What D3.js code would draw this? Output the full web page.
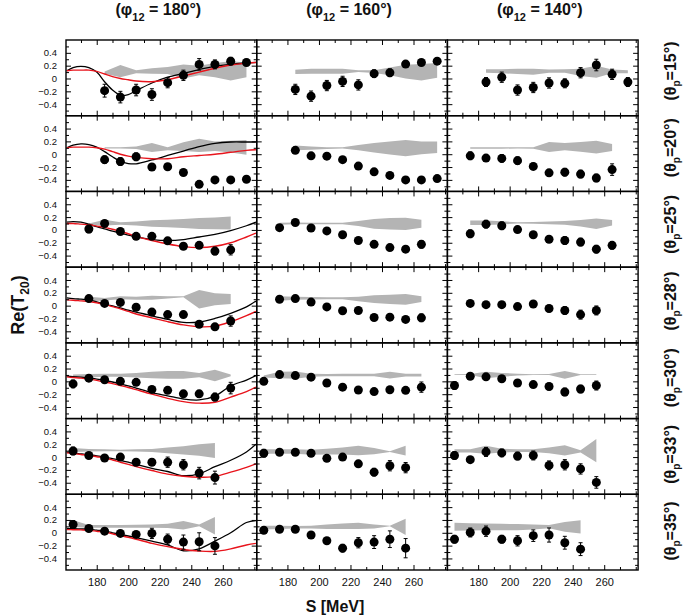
<!DOCTYPE html>
<html>
<head>
<meta charset="utf-8">
<script src="https://d3js.org/d3.v7.min.js"></script>
<style>
  body { margin: 0; background: #fff; }
  text { font-family: "Liberation Sans", Arial, sans-serif; fill: #111; }
</style>
</head>
<body>
<script>

// titles of the columns (phi_12) and rows (theta_p)
var colTitles = ["180°", "160°", "140°"];
var rowTitles = ["15°", "20°", "25°", "28°", "30°", "33°", "35°"];

// tick values
var xMajor = [180, 200, 220, 240, 260];
var xMinor = [170, 190, 210, 230, 250, 270, 280];
var yMajor = [-0.4, -0.2, 0, 0.2, 0.4];
var yMinor = [-0.5, -0.3, -0.1, 0.1, 0.3, 0.5];

// measured points, one list per theta_p row: [S (MeV), Re(T20), error]
var data180 = [
  [[185,-0.19,0.1],[195,-0.29,0.09],[205,-0.18,0.09],[215,-0.25,0.09],[225,-0.065,0.08],[235,0.05,0.08],[245,0.22,0.09],[255,0.22,0.07],[265,0.27,0.06],[275,0.25,0.05]],
  [[185,-0.085,0.06],[195,-0.115,0.06],[205,-0.04,0.06],[215,-0.2,0.03],[225,-0.195,0.03],[235,-0.285,0.03],[245,-0.47,0.03],[255,-0.4,0.03],[265,-0.4,0.03],[275,-0.39,0.045]],
  [[175,0.015,0.06],[185,0.1,0.03],[195,-0.025,0.03],[205,-0.1,0.03],[215,-0.1,0.03],[225,-0.17,0.03],[235,-0.255,0.045],[245,-0.24,0.045],[255,-0.33,0.06],[265,-0.31,0.08]],
  [[175,0.11,0.03],[185,0.035,0.03],[195,0.05,0.03],[205,-0.025,0.03],[215,-0.1,0.03],[225,-0.14,0.03],[235,-0.14,0.03],[245,-0.29,0.045],[255,-0.33,0.045],[265,-0.24,0.08]],
  [[165,-0.04,0.06],[175,0.05,0.03],[185,0.025,0.03],[195,0.0,0.03],[205,-0.015,0.03],[215,-0.125,0.03],[225,-0.14,0.03],[235,-0.195,0.03],[245,-0.195,0.05],[255,-0.245,0.06],[265,-0.105,0.09]],
  [[165,0.095,0.06],[175,0.025,0.03],[185,-0.015,0.03],[195,0.0,0.03],[205,-0.08,0.03],[215,-0.08,0.05],[225,-0.08,0.08],[235,-0.12,0.08],[245,-0.25,0.09],[255,-0.32,0.1]],
  [[165,0.13,0.06],[175,0.067,0.03],[185,0.025,0.03],[195,-0.01,0.03],[205,-0.025,0.03],[215,-0.01,0.08],[225,-0.1,0.08],[235,-0.145,0.11],[245,-0.14,0.14],[255,-0.205,0.13]]
];
var data160 = [
  [[185,-0.17,0.08],[195,-0.275,0.08],[205,-0.11,0.08],[215,-0.045,0.08],[225,-0.1,0.08],[235,0.075,0.06],[245,0.09,0.06],[255,0.225,0.03],[265,0.25,0.03],[275,0.27,0.03]],
  [[185,0.06,0.045],[195,-0.025,0.03],[205,-0.03,0.03],[215,-0.085,0.03],[225,-0.185,0.03],[235,-0.275,0.03],[245,-0.33,0.03],[255,-0.4,0.03],[265,-0.4,0.03],[275,-0.38,0.045]],
  [[175,0.035,0.03],[185,0.115,0.03],[195,0.03,0.03],[205,-0.015,0.03],[215,-0.075,0.03],[225,-0.165,0.03],[235,-0.225,0.03],[245,-0.275,0.03],[255,-0.3,0.03],[265,-0.225,0.06]],
  [[175,0.1,0.03],[185,0.11,0.03],[195,0.055,0.03],[205,-0.02,0.03],[215,-0.08,0.03],[225,-0.075,0.03],[235,-0.185,0.03],[245,-0.18,0.03],[255,-0.215,0.03],[265,-0.19,0.06]],
  [[165,0.0,0.045],[175,0.105,0.03],[185,0.09,0.03],[195,0.065,0.03],[205,-0.025,0.03],[215,-0.09,0.03],[225,-0.135,0.03],[235,-0.16,0.03],[245,-0.13,0.03],[255,-0.14,0.045],[265,-0.09,0.08]],
  [[165,0.06,0.06],[175,0.075,0.03],[185,0.075,0.03],[195,0.06,0.03],[205,-0.02,0.03],[215,0.0,0.03],[225,-0.105,0.03],[235,-0.235,0.06],[245,-0.135,0.08],[255,-0.165,0.08]],
  [[165,0.04,0.03],[175,0.055,0.03],[185,0.055,0.03],[195,-0.035,0.03],[205,-0.125,0.03],[215,-0.24,0.06],[225,-0.155,0.08],[235,-0.145,0.1],[245,-0.1,0.13],[255,-0.24,0.15]]
];
var data140 = [
  [[185,-0.055,0.07],[195,0.02,0.08],[205,-0.18,0.08],[215,-0.14,0.08],[225,-0.07,0.08],[235,-0.075,0.07],[245,0.09,0.08],[255,0.21,0.09],[265,0.065,0.08],[275,-0.055,0.07]],
  [[175,-0.025,0.06],[185,-0.06,0.05],[195,-0.065,0.06],[205,-0.1,0.06],[215,-0.19,0.05],[225,-0.29,0.05],[235,-0.28,0.06],[245,-0.31,0.06],[255,-0.37,0.06],[265,-0.24,0.09]],
  [[175,-0.06,0.06],[185,0.09,0.06],[195,0.065,0.06],[205,0.005,0.03],[215,-0.075,0.03],[225,-0.145,0.03],[235,-0.165,0.06],[245,-0.19,0.06],[255,-0.3,0.06],[265,-0.24,0.06]],
  [[175,0.035,0.03],[185,0.015,0.03],[195,0.015,0.03],[205,-0.015,0.03],[215,0.025,0.03],[225,-0.045,0.05],[235,-0.075,0.06],[245,-0.14,0.07],[255,-0.075,0.07]],
  [[165,-0.065,0.06],[175,0.08,0.03],[185,0.07,0.03],[195,0.04,0.03],[205,-0.025,0.03],[215,-0.05,0.03],[225,-0.08,0.05],[235,-0.165,0.06],[245,-0.12,0.06],[255,-0.065,0.07]],
  [[165,0.025,0.06],[175,-0.04,0.03],[185,0.08,0.07],[195,0.065,0.06],[205,0.015,0.06],[215,0.025,0.07],[225,-0.13,0.07],[235,-0.12,0.08],[245,-0.185,0.08],[255,-0.395,0.09]],
  [[165,-0.1,0.06],[175,0.005,0.07],[185,0.025,0.08],[195,-0.1,0.06],[205,-0.125,0.08],[215,-0.045,0.09],[225,-0.035,0.11],[235,-0.155,0.1],[245,-0.255,0.1]]
];

// grey systematic bands: [S (MeV), low, high]
var band180 = [
  [[185,0.075,0.11],[195,0.02,0.21],[205,0.08,0.13],[215,0.075,0.16],[225,0.07,0.18],[235,0.0,0.22],[245,0.05,0.2],[255,0.02,0.24],[265,-0.03,0.27],[275,0.02,0.25]],
  [[185,0.09,0.11],[195,0.09,0.11],[205,0.08,0.12],[215,0.035,0.175],[225,0.06,0.11],[235,0.05,0.185],[245,0.035,0.24],[255,0.05,0.2],[265,0.025,0.21],[275,-0.01,0.22]],
  [[175,0.07,0.1],[185,0.07,0.16],[195,0.08,0.12],[205,0.07,0.13],[215,0.05,0.15],[225,0.04,0.16],[235,0.03,0.17],[245,0.015,0.185],[255,0.01,0.195],[265,0.005,0.21]],
  [[175,0.067,0.14],[185,0.08,0.12],[195,0.1,0.145],[205,0.09,0.14],[215,0.09,0.155],[225,0.11,0.145],[235,0.13,0.145],[245,-0.045,0.245],[255,0.005,0.195],[265,0.025,0.18]],
  [[165,0.08,0.105],[175,0.06,0.115],[185,0.07,0.12],[195,0.07,0.12],[205,0.06,0.13],[215,0.05,0.15],[225,0.04,0.16],[235,0.04,0.16],[245,0.065,0.13],[255,0.0,0.18],[265,0.08,0.105]],
  [[165,0.08,0.14],[175,0.085,0.125],[185,0.09,0.12],[195,0.09,0.115],[205,0.085,0.12],[215,0.08,0.125],[225,0.06,0.15],[235,0.04,0.17],[245,0.02,0.2],[255,-0.015,0.22]],
  [[165,0.09,0.195],[175,0.08,0.12],[185,0.08,0.12],[195,0.08,0.12],[205,0.08,0.125],[215,0.08,0.13],[225,0.075,0.14],[235,0.05,0.185],[245,0.1,0.13],[255,-0.025,0.245]]
];
var band160 = [
  [[185,0.07,0.135],[195,0.075,0.15],[205,0.075,0.15],[215,0.075,0.15],[225,0.1,0.13],[235,0.085,0.13],[245,0.05,0.17],[255,0.0,0.215],[265,-0.03,0.225],[275,0.01,0.24]],
  [[185,0.06,0.135],[195,0.07,0.12],[205,0.08,0.11],[215,0.09,0.11],[225,0.06,0.145],[235,0.025,0.175],[245,-0.005,0.2],[255,-0.03,0.22],[265,0.0,0.2],[275,0.02,0.2]],
  [[175,0.08,0.11],[185,0.09,0.115],[195,0.09,0.11],[205,0.09,0.11],[215,0.09,0.11],[225,0.06,0.14],[235,0.02,0.17],[245,0.005,0.185],[255,0.0,0.19],[265,0.035,0.16]],
  [[175,0.075,0.145],[185,0.09,0.14],[195,0.095,0.135],[205,0.1,0.13],[215,0.1,0.13],[225,0.07,0.14],[235,0.04,0.16],[245,0.025,0.17],[255,0.015,0.18],[265,0.055,0.145]],
  [[165,0.06,0.09],[175,0.05,0.15],[185,0.04,0.155],[195,0.07,0.12],[205,0.08,0.115],[215,0.08,0.12],[225,0.08,0.12],[235,0.08,0.12],[245,0.045,0.15],[255,0.075,0.12],[265,0.075,0.12]],
  [[165,0.05,0.12],[175,0.05,0.12],[185,0.05,0.12],[195,0.035,0.115],[205,0.04,0.13],[215,0.04,0.15],[225,0.03,0.175],[235,0.045,0.14],[245,0.08,0.09],[255,0.025,0.175]],
  [[165,0.05,0.11],[175,0.06,0.11],[185,0.065,0.105],[195,0.065,0.11],[205,0.06,0.13],[215,0.06,0.145],[225,0.06,0.155],[235,0.065,0.13],[245,0.1,0.11],[255,-0.035,0.22]]
];
var band140 = [
  [[185,0.09,0.145],[195,0.08,0.145],[205,0.07,0.15],[215,0.06,0.15],[225,0.09,0.14],[235,0.09,0.145],[245,0.04,0.15],[255,0.01,0.2],[265,0.08,0.14],[275,0.08,0.13]],
  [[175,0.085,0.11],[185,0.085,0.11],[195,0.085,0.11],[205,0.09,0.11],[215,0.085,0.11],[225,0.035,0.19],[235,0.06,0.175],[245,0.04,0.19],[255,0.01,0.21],[265,0.05,0.16]],
  [[175,0.075,0.145],[185,0.075,0.145],[195,0.085,0.135],[205,0.1,0.12],[215,0.095,0.125],[225,0.09,0.13],[235,0.08,0.14],[245,0.055,0.155],[255,0.015,0.18],[265,0.07,0.155]],
  [],
  [[165,0.1,0.11],[175,0.1,0.115],[185,0.05,0.15],[195,0.07,0.13],[205,0.09,0.12],[215,0.1,0.11],[225,0.1,0.115],[235,0.04,0.16],[245,0.1,0.11],[255,0.1,0.11]],
  [[165,0.07,0.12],[175,0.07,0.12],[185,0.05,0.175],[195,0.07,0.13],[205,0.08,0.12],[215,0.08,0.12],[225,0.06,0.15],[235,0.025,0.185],[245,0.07,0.105],[255,-0.08,0.28]],
  [[165,0.03,0.155],[175,0.035,0.15],[185,0.04,0.145],[195,0.04,0.14],[205,0.04,0.135],[215,0.05,0.13],[225,0.07,0.12],[235,0.015,0.17],[245,-0.01,0.195]]
];

// model curves (only for phi_12 = 180), sampled at curveE
var curveE = [161, 165, 170, 175, 180, 185, 190, 195, 200, 205, 215, 225, 235, 245, 255, 265, 275, 281];
var black180 = [
  [0.12,0.17,0.19,0.17,0.10,-0.05,-0.18,-0.26,-0.25,-0.19,-0.07,0.02,0.08,0.14,0.19,0.22,0.24,0.25],
  [0.10,0.14,0.16,0.15,0.11,0.04,-0.04,-0.11,-0.145,-0.15,-0.09,-0.02,0.05,0.12,0.17,0.19,0.19,0.19],
  [0.12,0.13,0.12,0.09,0.05,0.015,-0.02,-0.05,-0.08,-0.11,-0.15,-0.165,-0.15,-0.11,-0.07,-0.01,0.065,0.12],
  [0.12,0.11,0.10,0.09,0.06,0.025,-0.005,-0.035,-0.07,-0.10,-0.16,-0.215,-0.26,-0.255,-0.20,-0.12,-0.02,0.07],
  [0.08,0.075,0.065,0.05,0.035,0.015,-0.01,-0.04,-0.07,-0.105,-0.175,-0.225,-0.275,-0.29,-0.23,-0.07,0.02,0.09],
  [0.075,0.065,0.05,0.035,0.02,0.0,-0.025,-0.05,-0.08,-0.115,-0.175,-0.225,-0.29,-0.26,-0.15,-0.05,0.08,0.20],
  [0.067,0.063,0.06,0.055,0.04,0.025,0.0,-0.025,-0.05,-0.075,-0.13,-0.19,-0.28,-0.25,-0.13,0.0,0.16,0.19]
];
var red180 = [
  [0.12,0.13,0.13,0.13,0.11,0.07,0.03,0.0,-0.02,-0.04,-0.05,-0.02,0.04,0.10,0.16,0.21,0.24,0.25],
  [0.10,0.11,0.11,0.11,0.10,0.08,0.04,0.0,-0.03,-0.05,-0.07,-0.07,-0.04,-0.02,0.0,0.03,0.06,0.07],
  [0.10,0.10,0.09,0.08,0.06,0.04,0.01,-0.025,-0.06,-0.10,-0.165,-0.22,-0.26,-0.275,-0.255,-0.20,-0.11,-0.05],
  [0.09,0.085,0.075,0.065,0.045,0.02,-0.015,-0.05,-0.09,-0.13,-0.19,-0.25,-0.30,-0.33,-0.32,-0.25,-0.155,-0.09],
  [0.07,0.06,0.05,0.035,0.015,-0.01,-0.035,-0.065,-0.095,-0.13,-0.20,-0.265,-0.315,-0.34,-0.325,-0.245,-0.16,-0.09],
  [0.065,0.055,0.04,0.025,0.005,-0.015,-0.045,-0.08,-0.115,-0.15,-0.21,-0.265,-0.30,-0.315,-0.30,-0.235,-0.16,-0.105],
  [0.05,0.048,0.045,0.04,0.025,0.01,-0.015,-0.045,-0.07,-0.10,-0.165,-0.215,-0.26,-0.285,-0.29,-0.25,-0.19,-0.165]
];

var allData = [data180, data160, data140];
var allBands = [band180, band160, band140];

// layout of the grid
var svg_width = 685;
var svg_height = 615;
var grid_left = 66;
var grid_top = 40;
var col_w = 190.7;
var row_h = (570 - 40) / 7;

var svg = d3.select("body")
    .append("svg")
    .attr("width", svg_width)
    .attr("height", svg_height);

var x_scale = d3.scaleLinear().domain([160.5, 281.5]).range([0, col_w]);
var y_scale = d3.scaleLinear().domain([-0.58, 0.6]).range([row_h, 0]);

svg.append("defs").append("clipPath")
    .attr("id", "panel-clip")
  .append("rect")
    .attr("width", col_w)
    .attr("height", row_h);

var band_area = d3.area()
    .x(function(d) { return x_scale(d[0]); })
    .y0(function(d) { return y_scale(d[1]); })
    .y1(function(d) { return y_scale(d[2]); });

var model_line = d3.line()
    .x(function(d, i) { return x_scale(curveE[i]); })
    .y(function(d) { return y_scale(d); })
    .curve(d3.curveCatmullRom);

// ticks pointing inwards on all four sides
function draw_ticks(g) {
  var sides = [
    [d3.axisBottom(x_scale), 0, 0, xMajor, xMinor],
    [d3.axisTop(x_scale), 0, row_h, xMajor, xMinor],
    [d3.axisRight(y_scale), 0, 0, yMajor, yMinor],
    [d3.axisLeft(y_scale), col_w, 0, yMajor, yMinor]
  ];
  sides.forEach(function(s) {
    [[s[3], 5], [s[4], 3]].forEach(function(t) {
      g.append("g")
          .attr("transform", "translate(" + s[1] + "," + s[2] + ")")
          .call(s[0].tickValues(t[0]).tickSize(t[1]).tickFormat(""))
          .call(function(a) { a.select(".domain").remove(); })
          .selectAll("line").attr("stroke", "#000").attr("stroke-width", 1);
    });
  });
}

function draw_panel(row, col) {
  var g = svg.append("g")
      .attr("transform", "translate(" + (grid_left + col * col_w) + "," + (grid_top + row * row_h) + ")");

  var band = allBands[col][row];
  if (band.length) {
    g.append("path")
        .attr("d", band_area(band))
        .attr("fill", "#b4b4b4");
  }

  if (col == 0) {
    var lines = g.append("g").attr("clip-path", "url(#panel-clip)");
    lines.append("path")
        .attr("d", model_line(black180[row]))
        .attr("fill", "none")
        .attr("stroke", "#000")
        .attr("stroke-width", 1.3);
    lines.append("path")
        .attr("d", model_line(red180[row]))
        .attr("fill", "none")
        .attr("stroke", "#e8141c")
        .attr("stroke-width", 1.4);
  }

  var pts = allData[col][row];

  // error bars with small caps
  var bars = g.append("g").attr("stroke", "#000").attr("stroke-width", 1);
  bars.selectAll(".bar")
      .data(pts)
      .enter()
      .append("line")
      .attr("x1", function(d) { return x_scale(d[0]); })
      .attr("x2", function(d) { return x_scale(d[0]); })
      .attr("y1", function(d) { return y_scale(d[1] - d[2]); })
      .attr("y2", function(d) { return y_scale(d[1] + d[2]); });
  [-1, 1].forEach(function(sign) {
    bars.selectAll(".cap" + sign)
        .data(pts)
        .enter()
        .append("line")
        .attr("x1", function(d) { return x_scale(d[0]) - 2; })
        .attr("x2", function(d) { return x_scale(d[0]) + 2; })
        .attr("y1", function(d) { return y_scale(d[1] + sign * d[2]); })
        .attr("y2", function(d) { return y_scale(d[1] + sign * d[2]); });
  });

  g.selectAll("circle")
      .data(pts)
      .enter()
      .append("circle")
      .attr("cx", function(d) { return x_scale(d[0]); })
      .attr("cy", function(d) { return y_scale(d[1]); })
      .attr("r", 4.5)
      .attr("fill", "#000");

  draw_ticks(g);

  g.append("rect")
      .attr("width", col_w)
      .attr("height", row_h)
      .attr("fill", "none")
      .attr("stroke", "#000")
      .attr("stroke-width", 1.4);

  // tick labels only on the outer left column and bottom row
  if (col == 0) {
    g.append("g")
        .call(d3.axisLeft(y_scale).tickValues(yMajor).tickSize(0).tickPadding(9)
              .tickFormat(function(d) { return d == 0 ? "0" : d3.format(".1f")(d); }))
        .call(function(a) { a.select(".domain").remove(); })
        .selectAll("text")
        .attr("font-size", 9.5)
        .attr("fill", "#111");
  }
  if (row == 6) {
    g.append("g")
        .attr("transform", "translate(0," + row_h + ")")
        .call(d3.axisBottom(x_scale).tickValues(xMajor).tickSize(0).tickPadding(8))
        .call(function(a) { a.select(".domain").remove(); })
        .selectAll("text")
        .attr("font-size", 11)
        .attr("fill", "#111");
  }
}

for (var r = 0; r < 7; r++) {
  for (var c = 0; c < 3; c++) {
    draw_panel(r, c);
  }
}

// column titles (phi_12 = ...)
colTitles.forEach(function(t, i) {
  var txt = svg.append("text")
      .attr("x", grid_left + (i + 0.5) * col_w - 3)
      .attr("y", 15)
      .attr("text-anchor", "middle")
      .attr("font-size", 16)
      .attr("font-weight", "bold");
  txt.append("tspan").text("(\u03c6");
  txt.append("tspan").attr("font-size", 11).attr("dy", 6).text("12");
  txt.append("tspan").attr("dy", -6).text(" = " + t + ")");
});

// row titles (theta_p = ...)
rowTitles.forEach(function(t, i) {
  var txt = svg.append("text")
      .attr("transform", "translate(676," + (71 + i * 76.67) + ") rotate(-90)")
      .attr("text-anchor", "middle")
      .attr("font-size", 16)
      .attr("font-weight", "bold");
  txt.append("tspan").text("(\u03b8");
  txt.append("tspan").attr("font-size", 10).attr("dy", 4).text("p");
  txt.append("tspan").attr("dy", -4).text("=" + t + ")");
});

// axis titles
var ylab = svg.append("text")
    .attr("transform", "translate(24,305) rotate(-90)")
    .attr("text-anchor", "middle")
    .attr("font-size", 18)
    .attr("font-weight", "bold");
ylab.append("tspan").text("Re(T");
ylab.append("tspan").attr("font-size", 12).attr("dy", 5).text("20");
ylab.append("tspan").attr("dy", -5).text(")");

svg.append("text")
    .attr("x", 335)
    .attr("y", 612)
    .attr("text-anchor", "middle")
    .attr("font-size", 16)
    .attr("font-weight", "bold")
    .text("S [MeV]");

</script>
</body>
</html>
